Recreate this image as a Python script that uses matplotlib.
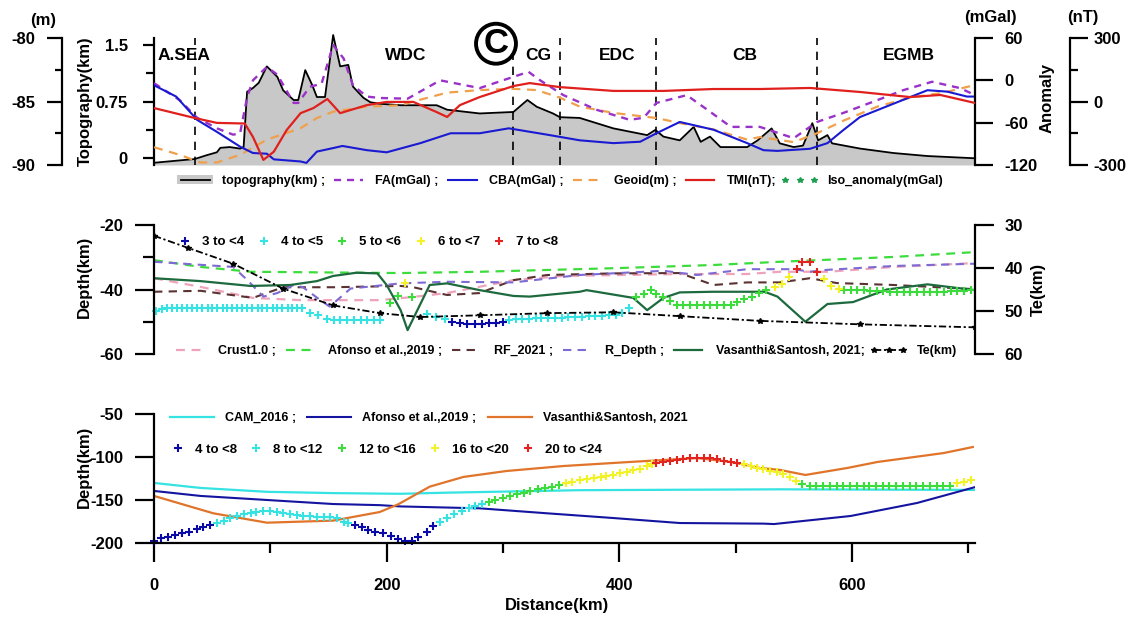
import numpy as np
import matplotlib.pyplot as plt
from matplotlib.lines import Line2D
from matplotlib.patches import Patch

plt.rcParams['font.family'] = ['Liberation Sans', 'DejaVu Sans']
plt.rcParams['font.weight'] = 'bold'
plt.rcParams['axes.unicode_minus'] = False
plt.rcParams['axes.linewidth'] = 1.6
for k in ['xtick.major.width', 'ytick.major.width', 'xtick.minor.width', 'ytick.minor.width']:
    plt.rcParams[k] = 1.6
plt.rcParams['xtick.labelsize'] = 12
plt.rcParams['ytick.labelsize'] = 12

# ---------------- top panel: topography & potential field ----------------
topo_x = [0, 35, 45, 54, 57, 65, 74, 77, 80, 85, 90, 97, 106, 111, 120, 124, 130, 136, 140, 147,
          154, 160, 167, 171, 180, 186, 194, 212, 243, 252, 280, 309, 321, 329, 343, 349, 366,
          395, 424, 431, 438, 452, 464, 470, 478, 487, 510, 519, 531, 538, 550, 558, 566, 571,
          579, 583, 607, 636, 665, 706]
topo_km = [-0.07, -0.02, 0.03, 0.07, 0.13, 0.14, 0.12, 0.14, 0.88, 0.93, 1.0, 1.22, 1.08, 0.9,
           0.77, 0.77, 1.17, 0.97, 0.81, 0.81, 1.64, 1.22, 1.24, 0.95, 0.8, 0.74, 0.72, 0.70,
           0.70, 0.64, 0.59, 0.61, 0.77, 0.68, 0.59, 0.54, 0.53, 0.39, 0.30, 0.37, 0.28, 0.23,
           0.41, 0.21, 0.28, 0.14, 0.14, 0.23, 0.39, 0.19, 0.14, 0.16, 0.46, 0.23, 0.30, 0.19,
           0.12, 0.06, 0.02, -0.01]

fa_x = [0, 22, 37, 54, 68, 74, 80, 85, 97, 106, 120, 124, 134, 144, 154, 163, 171, 183, 194,
        218, 246, 280, 309, 322, 332, 352, 381, 409, 421, 432, 458, 476, 496, 521, 550, 570,
        593, 622, 644, 669, 693, 706]
fa_mgal = [-4, -28, -53, -68, -77, -75, -24, 0, 19, 8, -32, -32, -9, -5, 50, 31, -7, -23, -25,
           -26, 0, -11, 5, 12, 0, -21, -42, -56, -53, -32, -21, -42, -66, -66, -82, -59, -46,
           -28, -14, -2, -11, -21]

cba_x = [0, 19, 37, 54, 74, 85, 97, 103, 126, 131, 140, 154, 162, 183, 200, 229, 255, 280,
         305, 338, 366, 395, 418, 432, 452, 481, 510, 524, 536, 564, 579, 593, 607, 636, 665,
         682, 699, 706]
cba_mgal = [-7, -23, -56, -73, -94, -103, -104, -112, -115, -117, -101, -96, -93, -99, -102,
            -89, -75, -75, -68, -77, -85, -89, -87, -75, -59, -70, -89, -99, -100, -97, -89,
            -70, -52, -33, -14, -16, -23, -23]

geoid_x = [0, 22, 40, 54, 74, 97, 126, 140, 154, 183, 212, 223, 252, 280, 309, 329, 349, 366,
           395, 432, 452, 481, 510, 521, 550, 570, 593, 622, 650, 679, 706]
geoid_m = [-88.6, -89.2, -89.8, -89.8, -89.2, -88.0, -87.1, -86.3, -85.8, -85.4, -85.3, -85.0,
           -84.3, -84.1, -84.0, -84.1, -84.7, -85.4, -85.9, -86.3, -86.7, -87.2, -88.0, -87.8,
           -88.2, -87.5, -86.5, -85.4, -84.7, -84.3, -83.7]

tmi_x = [0, 35, 54, 78, 85, 94, 103, 114, 126, 137, 149, 160, 183, 200, 223, 243, 252, 263,
         280, 309, 323, 349, 395, 438, 481, 521, 564, 607, 650, 676, 706]
tmi_nt = [-31, -78, -101, -104, -167, -276, -237, -135, -55, -31, 12, -55, -17, -2, -2, -50,
          -73, -17, 21, 73, 87, 68, 50, 50, 59, 59, 64, 45, 21, 31, -7]

bound_km = [35, 309, 349, 432, 570]
regions = ['A.SEA', 'WDC', 'CG', 'EDC', 'CB', 'EGMB']
region_km = [3, 216, 330, 398, 508, 649]

# ---------------- middle panel: crustal thickness ----------------
te_x = [0, 29, 68, 111, 154, 194, 229, 280, 338, 395, 452, 521, 607, 706]
te_km = [32.5, 35.3, 39.0, 44.8, 48.7, 50.5, 51.4, 51.0, 50.5, 50.3, 51.2, 52.3, 53.1, 53.8]

crust_x = [0, 40, 85, 126, 194, 223, 252, 309, 352, 452, 510, 538, 579, 636, 706]
crust_d = [-36.5, -39.2, -42.6, -43.3, -43.3, -42.3, -41.1, -37.1, -35.8, -35.2, -35.2, -34.5,
           -34.5, -33.0, -31.8]

afonso_x = [0, 40, 83, 212, 280, 395, 481, 538, 636, 706]
afonso_d = [-30.9, -33.0, -34.5, -34.9, -34.5, -33.4, -32.4, -31.4, -29.9, -28.4]

rf_x = [0, 40, 85, 111, 154, 212, 223, 252, 280, 309, 338, 395, 452, 481, 510, 538, 564, 587,
        636, 706]
rf_d = [-40.7, -40.4, -42.6, -39.3, -39.3, -38.9, -39.3, -41.7, -41.1, -37.1, -35.5, -35.0,
        -34.9, -38.6, -37.8, -37.8, -36.5, -38.0, -38.6, -39.9]

rdep_x = [0, 68, 80, 94, 106, 120, 128, 143, 151, 169, 212, 252, 309, 366, 438, 467, 510, 550,
          564, 579, 636, 706]
rdep_d = [-31.4, -33.0, -37.0, -42.2, -41.1, -38.6, -39.3, -43.3, -45.3, -39.7, -38.1, -37.6,
          -37.8, -35.5, -34.2, -35.5, -33.7, -33.7, -34.5, -33.9, -32.7, -32.0]

vs_x = [0, 40, 83, 117, 140, 154, 174, 192, 200, 212, 218, 237, 252, 280, 309, 323, 366, 372,
        412, 424, 438, 452, 481, 525, 536, 560, 579, 601, 630, 665, 706]
vs_d = [-36.5, -37.4, -38.9, -38.6, -37.4, -35.8, -34.8, -35.0, -38.6, -46.4, -52.6, -38.6,
        -38.1, -40.2, -42.0, -42.2, -40.7, -40.2, -42.6, -46.4, -42.6, -40.9, -40.7, -40.7,
        -42.2, -50.0, -44.5, -43.9, -40.0, -38.4, -40.2]

# velocity classes along the Moho (middle panel)
m34_x = [256, 263, 269, 276, 282, 288, 294, 300]
m34_d = [-50.0, -50.5, -50.7, -50.7, -50.7, -50.5, -50.3, -50.0]
m45_x = [2, 7, 11, 15, 20, 24, 28, 33, 37, 41, 46, 50, 54, 59, 63, 67, 71, 76, 80, 84, 89, 93,
         97, 102, 106, 110, 115, 119, 123, 127, 134, 141, 149, 155, 160, 166, 172, 178, 183,
         189, 194, 235, 242, 250, 305, 311, 316, 322, 328, 333, 339, 345, 351, 356, 362, 368,
         374, 379, 385, 391, 397, 402, 408]
m45_d = [-46.6, -46.0, -45.8, -45.8, -45.8, -45.8, -45.8, -45.8, -45.7, -45.7, -45.7, -45.7,
         -45.7, -45.7, -45.7, -45.7, -45.7, -45.7, -45.7, -45.7, -45.7, -45.7, -45.7, -45.7,
         -45.7, -45.6, -45.6, -45.6, -45.6, -45.6, -47.2, -47.9, -49.3, -49.4, -49.5, -49.5,
         -49.5, -49.5, -49.5, -49.5, -49.5, -47.7, -48.6, -49.1, -49.5, -49.2, -49.1, -49.0,
         -48.9, -48.9, -48.8, -48.8, -48.7, -48.6, -48.6, -48.5, -48.3, -48.2, -48.1, -48.0,
         -47.9, -47.4, -45.8]
m56_x = [203, 210, 222, 414, 421, 427, 432, 438, 444, 450, 455, 461, 467, 473, 478, 484, 490,
         496, 501, 507, 514, 520, 526, 593, 599, 604, 610, 616, 622, 627, 633, 639, 645, 650,
         656, 662, 667, 673, 679, 685, 690, 696, 702]
m56_d = [-44.3, -42.0, -42.2, -42.2, -41.5, -40.2, -41.5, -42.4, -43.5, -44.8, -44.8, -44.8,
         -44.8, -44.8, -44.8, -44.8, -44.8, -44.7, -43.8, -43.0, -42.2, -41.2, -40.2, -40.2,
         -40.2, -40.2, -40.3, -40.4, -40.5, -40.6, -40.7, -40.7, -40.7, -40.7, -40.7, -40.7,
         -40.7, -40.7, -40.7, -40.6, -40.5, -40.4, -40.3]
m67_x = [216, 534, 540, 546, 576, 582, 589]
m67_d = [-38.1, -39.3, -38.3, -36.2, -36.7, -38.9, -39.9]
m78_x = [553, 557, 564, 570]
m78_d = [-33.7, -31.4, -31.4, -34.5]

# ---------------- bottom panel: LAB ----------------
cam_x = [0, 40, 97, 154, 212, 252, 366, 538, 706]
cam_d = [-130.2, -136.0, -140.5, -142.0, -142.8, -141.5, -138.6, -137.6, -138.3]

afl_x = [0, 40, 97, 154, 194, 212, 280, 338, 395, 452, 524, 533, 599, 656, 706]
afl_d = [-139.5, -145.3, -150.0, -154.7, -156.0, -157.5, -159.7, -165.5, -171.0, -176.8,
         -177.5, -178.0, -168.6, -153.5, -135.0]

vsl_x = [0, 51, 97, 154, 194, 210, 237, 266, 303, 352, 409, 452, 467, 496, 521, 538, 560, 596,
         622, 679, 704]
vsl_d = [-145.3, -165.5, -176.4, -174.0, -164.0, -155.0, -134.5, -123.2, -116.3, -110.5,
         -105.8, -102.4, -101.2, -105.8, -112.8, -115.0, -120.9, -112.8, -105.8, -95.4, -88.4]

l48_x = [0, 6, 12, 18, 24, 30, 37, 42, 48, 173, 179, 184, 190, 197, 204, 210, 216, 222, 227,
         235, 240]
l48_d = [-197.3, -194.6, -192.7, -190.7, -188.8, -186.9, -184.1, -181.8, -179.1, -179.1,
         -181.8, -184.9, -186.8, -188.8, -191.5, -195.4, -197.3, -197.3, -192.7, -186.8, -180.3]
l812_x = [54, 60, 65, 71, 77, 83, 88, 94, 100, 106, 111, 117, 123, 128, 134, 140, 146, 151,
          157, 163, 167, 246, 252, 258, 265, 271, 276, 282]
l812_d = [-177.2, -174.4, -171.4, -168.6, -166.7, -164.7, -163.6, -162.8, -162.4, -163.6,
          -164.7, -166.3, -167.5, -168.2, -168.6, -169.4, -170.2, -170.2, -171.4, -175.2,
          -177.2, -175.2, -171.4, -166.7, -162.4, -159.7, -157.0, -154.7]
l1216_x = [288, 293, 300, 306, 312, 318, 323, 330, 336, 342, 348, 557, 564, 569, 575, 581, 587,
           592, 598, 604, 610, 615, 621, 627, 632, 638, 644, 650, 655, 661, 667, 673, 678, 684]
l1216_d = [-152.0, -150.0, -147.3, -145.4, -143.0, -141.5, -139.6, -137.6, -135.7, -134.5,
           -132.6, -131.4, -134.2, -134.2, -134.3, -134.3, -134.3, -134.2, -134.2, -134.2,
           -134.0, -134.0, -134.0, -134.0, -134.0, -134.0, -134.0, -134.0, -134.0, -134.0,
           -134.0, -134.0, -134.0, -133.8]
l1620_x = [354, 359, 366, 372, 378, 384, 389, 395, 401, 407, 412, 418, 424, 428, 507, 513, 518,
           524, 530, 536, 541, 547, 552, 690, 696, 702]
l1620_d = [-130.6, -129.1, -127.1, -126.0, -124.8, -123.6, -122.1, -120.9, -119.0, -117.5,
           -115.1, -113.6, -110.9, -108.5, -108.2, -110.5, -112.4, -114.0, -115.9, -117.5,
           -119.8, -123.6, -127.5, -130.6, -128.7, -126.8]
l2024_x = [432, 438, 444, 450, 455, 461, 467, 473, 478, 484, 490, 496, 501]
l2024_d = [-107.4, -105.4, -104.3, -103.5, -102.3, -101.6, -100.8, -100.8, -101.6, -102.7,
           -104.3, -105.8, -107.4]

NAVY, CYAN, GREEN, YELLOW, RED = '#0a0aa8', '#35e3e3', '#3ddc3d', '#f2f226', '#e3231f'
vel_cols = [NAVY, CYAN, GREEN, YELLOW, RED]
moho_labels = ['3 to <4', '4 to <5', '5 to <6', '6 to <7', '7 to <8']
lab_labels = ['4 to <8', '8 to <12', '12 to <16', '16 to <20', '20 to <24']

LEG = dict(size=9, weight='bold')
VLEG = dict(size=9.5, weight='bold')
XMAX = 706
PLUS = dict(ls='none', marker='+', ms=5.5, mew=1.5)


def keep_spine(ax, side):
    for s in ax.spines:
        ax.spines[s].set_visible(s == side)


fig = plt.figure(figsize=(11.42, 6.18), dpi=100)
ax1 = fig.add_axes([0.1349, 0.733, 0.719, 0.2055])
ax2 = fig.add_axes([0.1349, 0.4272, 0.719, 0.2087])
ax3 = fig.add_axes([0.1349, 0.1214, 0.719, 0.2087])

# ===== top panel =====
ax1.fill_between(topo_x, topo_km, -0.1, color='#c8c8c8', lw=0, clip_on=False)
ax1.plot(topo_x, topo_km, color='k', lw=1.3, clip_on=False)
for b in bound_km:
    ax1.axvline(b, color='k', lw=1.2, ls=(0, (5, 4)))
for name, xk in zip(regions, region_km):
    ax1.text(xk, 0.865, name, transform=ax1.get_xaxis_transform(), fontsize=12.5,
             ha='left' if name == 'A.SEA' else 'center', va='center')
ax1.set_xlim(0, XMAX)
ax1.set_ylim(-0.1, 1.6)
keep_spine(ax1, 'left')
ax1.set_yticks([0, 0.75, 1.5])
ax1.set_yticklabels(['0', '0.75', '1.5'])
ax1.set_yticks([0.375, 1.125], minor=True)
ax1.tick_params(axis='x', length=0, labelbottom=False)
ax1.tick_params(axis='y', which='major', length=8, pad=11)
ax1.tick_params(axis='y', which='minor', length=6)
ax1.text(-0.084, 0.5, 'Topography(km)', transform=ax1.transAxes, rotation=90,
         ha='center', va='center', fontsize=12)

ax_geo = ax1.twinx()
keep_spine(ax_geo, 'left')
ax_geo.spines['left'].set_position(('axes', -0.112))
ax_geo.yaxis.set_ticks_position('left')
ax_geo.plot(geoid_x, geoid_m, color='#f0a04c', lw=1.6, ls=(0, (4, 3)))
ax_geo.set_ylim(-90, -80)
ax_geo.set_yticks([-90, -85, -80])
ax_geo.set_yticks([-87.5, -82.5], minor=True)
ax_geo.tick_params(axis='y', which='major', length=11, pad=8)
ax_geo.tick_params(axis='y', which='minor', length=5)
ax_geo.text(-0.135, 1.14, '(m)', transform=ax_geo.transAxes, ha='center', va='center',
            fontsize=12)

ax_mg = ax1.twinx()
keep_spine(ax_mg, 'right')
ax_mg.plot(fa_x, fa_mgal, color='#9a32c8', lw=1.7, ls=(0, (3, 2.5)))
ax_mg.plot(cba_x, cba_mgal, color='#1a1ad2', lw=1.5)
ax_mg.set_ylim(-120, 60)
ax_mg.set_yticks([-120, -60, 0, 60])
ax_mg.tick_params(axis='y', length=13, pad=8)
ax_mg.text(1.019, 1.165, '(mGal)', transform=ax_mg.transAxes, ha='center', va='center',
           fontsize=12)
ax_mg.text(1.088, 0.53, 'Anomaly', transform=ax_mg.transAxes, rotation=90, ha='center',
           va='center', fontsize=12)

ax_nt = ax1.twinx()
keep_spine(ax_nt, 'right')
ax_nt.spines['right'].set_position(('axes', 1.1157))
ax_nt.plot(tmi_x, tmi_nt, color='#e0201c', lw=1.6)
ax_nt.set_ylim(-300, 300)
ax_nt.set_yticks([-300, 0, 300])
ax_nt.set_yticks([-150, 150], minor=True)
ax_nt.tick_params(axis='y', which='major', length=13, pad=4)
ax_nt.tick_params(axis='y', which='minor', length=6)
ax_nt.text(1.131, 1.165, '(nT)', transform=ax_nt.transAxes, ha='center', va='center',
           fontsize=12)
ax_nt.text(294, 0.955, 'C', transform=ax_nt.get_xaxis_transform(), fontsize=25,
           ha='center', va='center', zorder=10,
           bbox=dict(boxstyle='circle,pad=0.1', fc='white', ec='k', lw=2.8))

top_handles = [(Patch(fc='#c8c8c8', ec='none'), Line2D([], [], color='k', lw=1.3)),
               Line2D([], [], color='#9a32c8', lw=1.7, ls=(0, (3, 2.5))),
               Line2D([], [], color='#1a1ad2', lw=1.5),
               Line2D([], [], color='#f0a04c', lw=1.6, ls=(0, (4, 3))),
               Line2D([], [], color='#e0201c', lw=1.6),
               Line2D([], [], color='#1f9e50', ls='none', marker='*', ms=4)]
top_labels = ['topography(km) ;', 'FA(mGal) ;', 'CBA(mGal) ;', 'Geoid(m) ;', 'TMI(nT);',
              'Iso_anomaly(mGal)']
ax1.legend(top_handles, top_labels, ncol=6, loc='center left', bbox_to_anchor=(0.028, -0.126),
           frameon=False, prop=LEG, handlelength=2.9, handletextpad=0.7, columnspacing=0.42,
           borderpad=0, borderaxespad=0, numpoints=3)

# ===== middle panel =====
ax2.plot(crust_x, crust_d, color='#efa3bb', lw=1.6, ls=(0, (4, 3)))
ax2.plot(afonso_x, afonso_d, color='#3ddc3d', lw=1.6, ls=(0, (4, 3)))
ax2.plot(rf_x, rf_d, color='#5b3232', lw=1.5, ls=(0, (4, 3)))
ax2.plot(rdep_x, rdep_d, color='#7d6ad2', lw=1.5, ls=(0, (4, 3)))
ax2.plot(vs_x, vs_d, color='#1d6a3e', lw=1.6)
moho_sets = [(m34_x, m34_d), (m45_x, m45_d), (m56_x, m56_d), (m67_x, m67_d), (m78_x, m78_d)]
for (xs, ds), c in zip(moho_sets, vel_cols):
    ax2.plot(xs, ds, color=c, clip_on=False, **PLUS)
ax2.set_xlim(0, XMAX)
ax2.set_ylim(-60, -20)
keep_spine(ax2, 'left')
ax2.set_yticks([-60, -40, -20])
ax2.set_yticks([-50, -30], minor=True)
ax2.tick_params(axis='x', length=0, labelbottom=False)
ax2.tick_params(axis='y', which='major', length=14, pad=8)
ax2.tick_params(axis='y', which='minor', length=8)
ax2.text(-0.085, 0.6, 'Depth(km)', transform=ax2.transAxes, rotation=90, ha='center',
         va='center', fontsize=12)

ax_te = ax2.twinx()
keep_spine(ax_te, 'right')
ax_te.plot(te_x, te_km, color='k', lw=1.3, ls=(0, (4, 1.5, 1.2, 1.5)), marker='*', ms=4)
ax_te.set_ylim(60, 30)
ax_te.set_yticks([30, 40, 50, 60])
ax_te.tick_params(axis='y', length=14, pad=7)
ax_te.text(1.077, 0.5, 'Te(km)', transform=ax_te.transAxes, rotation=90, ha='center',
           va='center', fontsize=12)

moho_handles = [Line2D([], [], color=c, **PLUS) for c in vel_cols]
ax2.legend(moho_handles, moho_labels, ncol=5, loc='center left', bbox_to_anchor=(0.03, 0.868),
           frameon=False, prop=VLEG, handlelength=1.0, handletextpad=0.8, columnspacing=0.95,
           borderpad=0, borderaxespad=0, numpoints=1)
mid_handles = [Line2D([], [], color='#efa3bb', lw=1.6, ls=(0, (4, 3))),
               Line2D([], [], color='#3ddc3d', lw=1.6, ls=(0, (4, 3))),
               Line2D([], [], color='#5b3232', lw=1.5, ls=(0, (4, 3))),
               Line2D([], [], color='#7d6ad2', lw=1.5, ls=(0, (4, 3))),
               Line2D([], [], color='#1d6a3e', lw=1.6),
               Line2D([], [], color='k', lw=1.3, ls=(0, (4, 1.5, 1.2, 1.5)), marker='*', ms=4)]
mid_labels = ['Crust1.0 ;', 'Afonso et al.,2019 ;', 'RF_2021 ;', 'R_Depth ;',
              'Vasanthi&Santosh, 2021;', 'Te(km)']
ax_te.legend(mid_handles, mid_labels, ncol=6, loc='center left', bbox_to_anchor=(0.022, 0.023),
             frameon=False, prop=LEG, handlelength=2.9, handletextpad=0.8, columnspacing=0.45,
             borderpad=0, borderaxespad=0, numpoints=3)

# ===== bottom panel =====
ax3.plot(cam_x, cam_d, color='#35e3e3', lw=1.6)
ax3.plot(afl_x, afl_d, color='#1414a0', lw=1.5)
ax3.plot(vsl_x, vsl_d, color='#e0742a', lw=1.6)
lab_sets = [(l48_x, l48_d), (l812_x, l812_d), (l1216_x, l1216_d), (l1620_x, l1620_d),
            (l2024_x, l2024_d)]
for (xs, ds), c in zip(lab_sets, vel_cols):
    ax3.plot(xs, ds, color=c, clip_on=False, **PLUS)
ax3.set_xlim(0, XMAX)
ax3.set_ylim(-200, -50)
ax3.spines['top'].set_visible(False)
ax3.spines['right'].set_visible(False)
ax3.set_yticks([-200, -150, -100, -50])
ax3.set_xticks([0, 200, 400, 600])
ax3.set_xticks([100, 300, 500, 700], minor=True)
ax3.tick_params(axis='y', length=14, pad=8)
ax3.tick_params(axis='x', which='major', length=14, pad=11)
ax3.tick_params(axis='x', which='minor', length=7)
ax3.text(-0.085, 0.59, 'Depth(km)', transform=ax3.transAxes, rotation=90, ha='center',
         va='center', fontsize=12)
ax3.text(0.491, -0.488, 'Distance(km)', transform=ax3.transAxes, ha='center', va='center',
         fontsize=12)

lab_line_handles = [Line2D([], [], color='#35e3e3', lw=1.6),
                    Line2D([], [], color='#1414a0', lw=1.5),
                    Line2D([], [], color='#e0742a', lw=1.6)]
leg_a = ax3.legend(lab_line_handles, ['CAM_2016 ;', 'Afonso et al.,2019 ;', 'Vasanthi&Santosh, 2021'],
                   ncol=3, loc='center left', bbox_to_anchor=(0.0195, 0.969), frameon=False,
                   prop=LEG, handlelength=3.5, handletextpad=0.9, columnspacing=0.9,
                   borderpad=0, borderaxespad=0)
ax3.add_artist(leg_a)
lab_handles = [Line2D([], [], color=c, **PLUS) for c in vel_cols]
ax3.legend(lab_handles, lab_labels, ncol=5, loc='center left', bbox_to_anchor=(0.021, 0.721),
           frameon=False, prop=VLEG, handlelength=1.0, handletextpad=0.8, columnspacing=0.95,
           borderpad=0, borderaxespad=0, numpoints=1)

fig.savefig('out.png', dpi=100)
